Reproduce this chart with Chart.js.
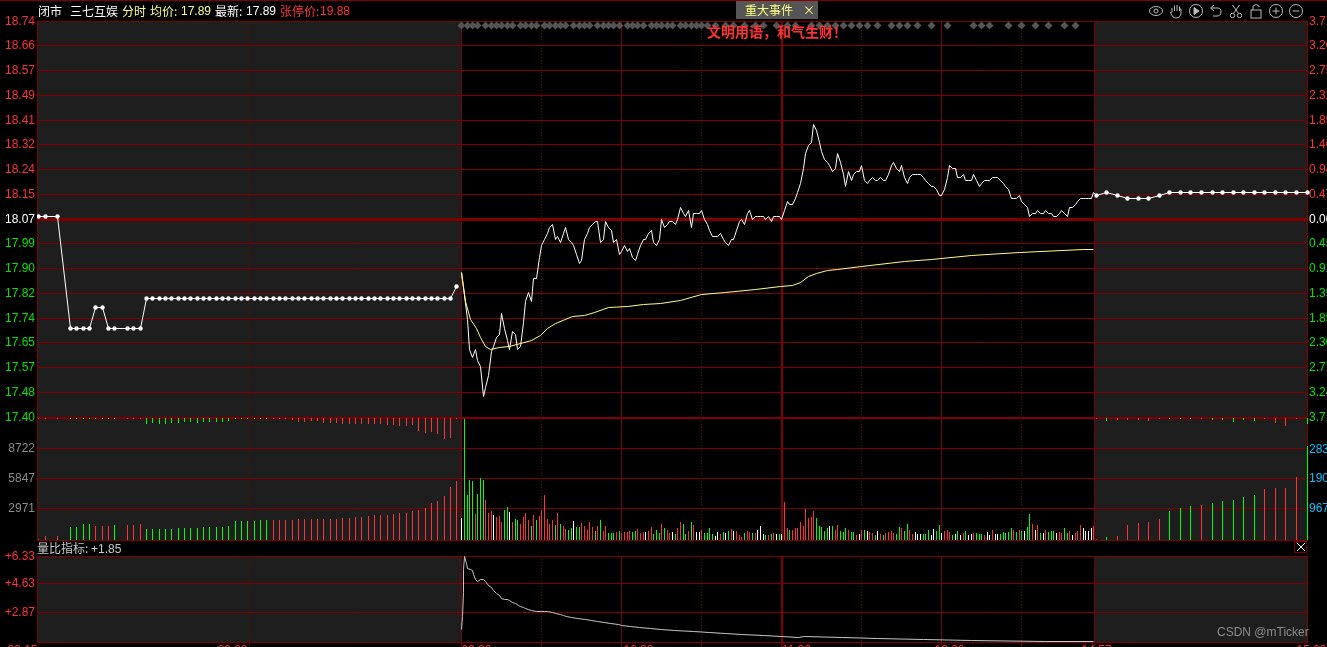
<!DOCTYPE html>
<html lang="zh">
<head>
<meta charset="utf-8">
<title>三七互娱 分时</title>
<script src="https://cdn.jsdelivr.net/npm/chart.js@4/dist/chart.umd.min.js"></script>
<style>
html,body{margin:0;padding:0;background:#000;width:1327px;height:647px;overflow:hidden}
canvas{position:absolute;left:0}
.t{position:absolute;white-space:pre;font:12px/14px "Noto Sans CJK SC","Liberation Sans",sans-serif}
.n{font-family:"Liberation Sans",sans-serif;font-size:12px}
#topline{position:absolute;left:0;top:0;width:1327px;height:1px;background:#800000}
#evt{position:absolute;left:736px;top:1px;width:82px;height:18px;background:#555}
#close{position:absolute;left:1294px;top:541px;width:11px;height:10px;border:1px solid #800000}
svg{position:absolute;top:3px}
</style>
</head>
<body>
<canvas id="cPrice" width="1327" height="430" style="top:0"></canvas>
<canvas id="cVol" width="1327" height="140" style="top:410px"></canvas>
<canvas id="cRatio" width="1327" height="102" style="top:545px"></canvas>

<div id="topline"></div>
<span class="t" style="left:38px;top:4px;color:#fff">闭市</span>
<span class="t" style="left:70px;top:4px;color:#fff">三七互娱</span>
<span class="t" style="left:122px;top:4px;color:#ffff80">分时</span>
<span class="t" style="left:150px;top:4px;color:#ffff80">均价:</span>
<span class="t n" style="left:181px;top:4px;color:#ffff80">17.89</span>
<span class="t" style="left:215px;top:4px;color:#fff">最新:</span>
<span class="t n" style="left:246px;top:4px;color:#fff">17.89</span>
<span class="t" style="left:280px;top:4px;color:#ff3232">张停价:</span>
<span class="t n" style="left:320px;top:4px;color:#ff3232">19.88</span>
<div id="evt"></div>
<span class="t" style="left:745px;top:3px;color:#ffff80">重大事件</span>
<span class="t" style="left:803px;top:3px;color:#ffff80">×</span>
<span class="t" style="left:707px;top:23px;color:#ff3232;font-size:14px;line-height:16px;font-weight:700">文明用语，和气生财！</span>
<span class="t" style="left:37px;top:541px;color:#c8c8c8">量比指标: <span class="n">+1.85</span></span>
<div id="close"><svg style="top:0;left:1px" width="10" height="10" viewBox="0 0 10 10"><path d="M1 1L9 9M9 1L1 9" stroke="#fff" fill="none"/></svg></div>
<span class="t" style="left:1217px;top:625px;color:#8c8c8c;font:12px/14px 'Liberation Sans',sans-serif">CSDN @mTicker</span>

<svg style="left:1148px" width="16" height="16" viewBox="0 0 16 16" fill="none" stroke="#bbb"><ellipse cx="8" cy="8" rx="6.5" ry="4.5"/><circle cx="8" cy="8" r="2"/></svg>
<svg style="left:1168px" width="16" height="16" viewBox="0 0 16 16" fill="none" stroke="#bbb"><path d="M4 9V5M6.5 8V2.5M9 8V2M11.5 8V3.5M11.5 8V6L13 6V10C13 13 11 15 8 15C5 15 4 13 2.5 9.5L4 9"/></svg>
<svg style="left:1188px" width="16" height="16" viewBox="0 0 16 16" fill="none" stroke="#bbb"><circle cx="8" cy="8" r="6.5"/><path d="M6 4.5L11 8L6 11.5Z" fill="#bbb"/></svg>
<svg style="left:1208px" width="16" height="16" viewBox="0 0 16 16" fill="none" stroke="#bbb"><path d="M6 2L2.5 5L6 8M3 5H10C12 5 13 7 13 9C13 12 11 13 9 13H5"/></svg>
<svg style="left:1228px" width="16" height="16" viewBox="0 0 16 16" fill="none" stroke="#bbb"><circle cx="4.5" cy="12.5" r="2.2"/><circle cx="11.5" cy="12.5" r="2.2"/><path d="M5.5 10.5L11.5 2M10.5 10.5L4.5 2"/></svg>
<svg style="left:1248px" width="16" height="16" viewBox="0 0 16 16" fill="none" stroke="#bbb"><rect x="3" y="7" width="10" height="8"/><path d="M5 7V4C5 1 11 1 11 4"/></svg>
<svg style="left:1268px" width="16" height="16" viewBox="0 0 16 16" fill="none" stroke="#bbb"><circle cx="8" cy="8" r="6.5"/><path d="M4.5 8H11.5M8 4.5V11.5"/></svg>
<svg style="left:1288px" width="16" height="16" viewBox="0 0 16 16" fill="none" stroke="#bbb"><circle cx="8" cy="8" r="6.5"/><path d="M4.5 8H11.5"/></svg>

<script>
// ---------- axis labels ----------
const priceTicks = [17.40,17.48375,17.5675,17.65125,17.735,17.81875,17.9025,17.98625,18.07,18.15375,18.2375,18.32125,18.405,18.48875,18.5725,18.65625,18.74];
const priceLabels = ['17.40','17.48','17.57','17.65','17.74','17.82','17.90','17.99','18.07','18.15','18.24','18.32','18.41','18.49','18.57','18.66','18.74'];
const pctLabels = ['3.71','3.24','2.77','2.30','1.85','1.39','0.92','0.45','0.00','0.47','0.94','1.40','1.85','2.32','2.75','3.20','3.71'];
const volTicks = [2971,5847,8722];
const volTicksRight = [967,1900,2833];
const ratioTicks = [2.87,4.63,6.33];
const timeLabels = ['09:15','09:20','09:30','10:30','11:30','13:00','14:57','15:00'];
const timeLabelMinutes = [-15.35,-10.4,5.6,66.3,125.4,183,237.03,240.07];
const solidMinutes = [0,60,120,180,237.01];
const dottedMinutes = [-10,30,90,150,210];

// ---------- pre-open auction (09:15 - 09:25) ----------
const prePrices = [18.08,18.08,null,18.08,null,17.70,17.70,17.70,17.70,17.77,17.77,17.70,17.70,null,17.70,17.70,17.70,
 17.80,17.80,17.80,17.80,17.80,17.80,17.80,17.80,17.80,17.80,17.80,17.80,17.80,17.80,17.80,17.80,17.80,17.80,17.80,17.80,
 17.80,17.80,17.80,17.80,17.80,17.80,17.80,17.80,17.80,17.80,17.80,17.80,17.80,17.80,17.80,17.80,17.80,17.80,17.80,17.80,
 17.80,17.80,17.80,17.80,17.80,17.80,17.80,17.80,17.80,17.84];
const preVolumes = [96,383,0,383,0,1244,1244,1531,1531,1340,1340,1340,1436,0,1436,1436,1531,1053,1053,1053,1053,1053,1148,1148,1148,1148,
 1244,1244,1244,1244,1340,1818,1818,1818,1818,1914,1914,1914,1914,1914,1914,2010,2010,2010,2010,2010,2010,2010,2105,2105,2201,2201,
 2297,2393,2393,2393,2488,2584,2584,2775,2871,3062,3541,3732,4211,5072,5646];
const preKinds = 'RR-R-GGGGRRRG-RRRGGGGGGGGGGGGGGGGGGGGRRRRRRRRRRRRRRRRRRRRRRRRRRRRRR';
const preOrders = [1,1,0,1,0,1,1,1,1,1,1,1,1,0,1,1,1,6,5,6,6,5,5,4,4,5,4,4,4,4,3,1,1,1,1,1,1,
 1,1,1,2,4,4,3,3,5,5,5,6,6,6,6,6,6,6,7,7,8,8,7,13,15,14,16,21,20,1];
const preOrderKinds = 'RR-R-GGGGGGGG-RRRGGGGGGGGGGGGGGGGGGGGRRRRRRRRRRRRRRRRRRRRRRRRRRRRRR';

// ---------- continuous session, one value per trading minute ----------
const mainPrices = [
 17.89,17.81,17.73,17.63,17.60,17.63,17.59,17.57,17.47,17.50,
 17.54,17.62,17.64,17.67,17.68,17.75,17.70,17.66,17.63,17.69,
 17.68,17.63,17.64,17.72,17.79,17.82,17.79,17.87,17.87,17.94,
 17.98,18.00,18.02,18.04,18.05,18.00,18.01,17.99,18.02,18.04,
 18.00,17.99,17.98,17.95,17.92,17.93,18.00,18.02,18.04,18.05,
 18.06,18.06,17.99,18.00,18.06,18.04,18.03,17.99,18.00,17.95,
 17.96,17.98,17.96,17.97,17.94,17.93,17.95,17.98,18.00,18.00,
 18.02,18.03,17.99,17.98,18.00,18.07,18.04,18.05,18.06,18.06,
 18.05,18.07,18.11,18.09,18.08,18.10,18.04,18.09,18.09,18.09,
 18.10,18.07,18.05,18.03,18.01,18.01,18.01,18.02,18.00,17.99,
 17.98,18.00,18.00,18.03,18.06,18.07,18.05,18.09,18.10,18.07,
 18.08,18.08,18.08,18.08,18.07,18.08,18.06,18.08,18.08,18.08,
 18.07,18.10,18.13,18.12,18.12,18.14,18.16,18.19,18.24,18.29,
 18.32,18.33,18.39,18.37,18.33,18.30,18.27,18.26,18.25,18.23,
 18.24,18.29,18.26,18.22,18.18,18.23,18.20,18.22,18.23,18.23,
 18.25,18.20,18.19,18.20,18.21,18.20,18.20,18.21,18.20,18.20,
 18.22,18.25,18.26,18.24,18.23,18.25,18.21,18.19,18.21,18.22,
 18.22,18.22,18.22,18.21,18.20,18.19,18.18,18.18,18.17,18.15,
 18.15,18.17,18.21,18.25,18.24,18.24,18.21,18.21,18.22,18.20,
 18.20,18.20,18.22,18.20,18.18,18.19,18.20,18.20,18.20,18.21,
 18.21,18.21,18.20,18.19,18.18,18.17,18.14,18.14,18.14,18.15,
 18.13,18.12,18.11,18.08,18.09,18.09,18.10,18.09,18.09,18.10,
 18.09,18.09,18.08,18.08,18.09,18.10,18.09,18.08,18.11,18.11,
 18.12,18.13,18.14,18.14,18.14,18.14,18.14,18.16];
const mainVolumes = [
 2112,11616,4320,5760,5664,2496,4416,5952,5760,3840,
 2592,2784,2400,2208,2304,1728,2880,3168,2688,1728,
 2016,1920,1536,2208,2592,1920,1344,2400,1920,2304,
 2880,4320,2016,1536,1920,1440,2592,1536,1344,1056,
 960,1152,1824,1248,1248,1632,1344,960,1728,1248,
 864,1344,1920,864,1344,672,672,672,768,864,
 672,768,768,864,768,864,1056,672,768,768,
 864,1248,576,960,672,1536,1152,960,672,768,
 576,1152,1728,1536,576,864,1728,1440,768,768,
 960,672,672,1152,576,384,768,576,768,672,
 864,1056,864,864,480,288,672,864,768,672,
 672,960,1344,576,480,480,576,672,576,576,
 576,3648,1152,960,960,1152,1152,1728,1344,2976,
 2112,2208,2784,2112,1344,1248,864,1152,1344,1344,
 960,1440,864,768,1152,960,768,768,480,576,
 960,960,864,768,672,480,864,576,480,672,
 768,864,672,576,1248,1152,864,1536,960,576,
 768,576,576,576,576,960,480,1056,864,1440,
 672,864,960,768,480,576,864,480,672,864,
 480,576,672,672,576,576,480,768,480,960,
 576,576,576,768,672,768,1152,960,768,960,
 864,864,1248,2496,1536,960,1440,672,672,960,
 768,864,864,672,768,672,1152,672,864,480,
 672,864,1440,1152,864,864,1152,1344];
const mainKinds =
 'WGGGGRGGGR'+'RRWRRRGGWR'+'GGRRRRGRGR'+'RRRRRGRGRR'+'GGWGGRRRRR'+'GRGRRGGGRG'+
 'RRRRGGRRRW'+'RRGGGRGRRW'+'GRRGGRGRWW'+'RGGGGWWRGW'+'GRWRRRGRRG'+'RWWWGRGRWG'+
 'WRRGRRRRRR'+'RRRGGGGGWG'+'RRGGGRGGRW'+'RGWRRGWRGR'+'RRRGGRGGRR'+'WWWGGGWWGG'+
 'WRRRGWGWRG'+'WWRGGGRWWR'+'WWGGGGGRGR'+'GWGGRWRGWR'+'GGGWRRGGRW'+'RRRWWWWR';

// average price line, read at the minutes listed
const avgMinutes = [0,1.5,3.4,5.5,7.1,9,10.9,14,17.8,22,26,29.6,32,35,41.5,46,49.6,55,62,68,74.6,82,90,99,110,119.6,124,127,130,133,137,141,150,166,176,191,209,233,237];
const avgPrices = [17.89,17.79,17.73,17.70,17.67,17.64,17.63,17.635,17.64,17.65,17.66,17.675,17.70,17.715,17.74,17.745,17.755,17.77,17.775,17.78,17.785,17.795,17.815,17.82,17.83,17.84,17.845,17.855,17.875,17.885,17.895,17.90,17.91,17.926,17.934,17.945,17.955,17.966,17.968];

// ---------- closing auction (14:57 - 15:00) ----------
const postPrices = [18.15,18.16,18.15,18.14,18.14,18.14,18.15,18.16,18.16,18.16,18.16,18.16,18.16,18.16,18.16,18.16,18.16,18.16,18.16,18.16,18.16];
const postVolumes = [21,94,125,468,530,562,655,905,998,1060,1092,1154,1217,1248,1342,1404,1591,1622,1622,1966,2933];
const postKinds = 'RGRRRRRGGGRGGGGGRRRRG';
const postOrders = [1,3,2,2,2,3,1,1,1,1,1,2,2,4,2,3,1,5,8,1,6];

// ---------- volume-ratio indicator ----------
const ratioMinutes = [0,0.2,0.5,0.8,1.1,1.6,2.2,3.2,4.1,4.5,5.2,6,7,8.2,9,10,11.2,12,13,14.2,15,16,17.2,18,19.1,20.2,21.4,22.1,23.2,24,25.1,26.2,28.1,30,31.1,32.2,34.1,35.2,37.1,38.2,39.4,41.2,43.5,46.5,48.7,51,53.6,55.9,58.7,60,63.4,66.7,70.9,75,79.9,87,93,99,105,113,120,126.2,128.5,142.9,156,173,191,219,237];
const ratioValues = [1.84,2.65,4.10,5.52,6.29,5.89,5.58,5.52,5.42,5.18,4.87,4.77,4.87,4.91,4.77,4.53,4.41,4.23,4.02,3.92,3.76,3.70,3.70,3.62,3.50,3.42,3.32,3.26,3.21,3.13,3.09,3.03,2.97,2.93,2.97,2.93,2.87,2.81,2.79,2.73,2.65,2.59,2.53,2.47,2.38,2.32,2.28,2.20,2.16,2.10,2.04,1.96,1.92,1.84,1.78,1.72,1.66,1.60,1.54,1.47,1.45,1.37,1.45,1.39,1.33,1.27,1.21,1.15,1.15];

// minutes that carry an event marker
const eventMinutes = [0,2,4,6,9,11,13,15,17,19,22,24,26,28,31,33,35,37,39,42,44,46,48,51,53,55,57,59,62,64,66,68,71,73,75,77,79,82,84,86,88,90,92,95,99,102,106,110,113,118,122,125,131,134,137,140,143,146,149,152,156,161,164,167,171,176,182,192,195,198,205,210,215,220,226,230];

// ---------- colours ----------
const RED='#ff3232', GREEN='#00ff00', WHITE='#ffffff', GRID='#800000', GREY='#1e1e1e';
const kindColor = {R:RED, G:GREEN, W:WHITE, '-':RED};

// ---------- session axis: three stretches of the width ----------
const PRE_SHARE = 424/1270, MAIN_SHARE = 632/1270, POST_START = 1057/1270, MAIN_NUDGE = 0.8;
class SessionScale extends Chart.LinearScale {
  static id = 'session';
  static defaults = Chart.LinearScale.defaults;
  getPixelForValue(v){
    const L = this.left, W = this.width;
    let px;
    if (v <= -5) px = L + (v+15)/10*PRE_SHARE*W;
    else if (v <= 237) px = L + PRE_SHARE*W + MAIN_NUDGE + Math.max(v,0)/237*MAIN_SHARE*W;
    else px = L + POST_START*W + (v-237)/3*(1-POST_START)*W;
    return Math.floor(px) + 0.5;
  }
}
class CrispScale extends Chart.LinearScale {
  static id = 'crisp';
  static defaults = Chart.LinearScale.defaults;
  getPixelForValue(v){ return Math.floor(super.getPixelForValue(v) + 1e-6) + 0.5; }
}
Chart.register(SessionScale, CrispScale);

const preMinute = i => -15 + 10*(i+0.316)/67;
const postMinute = j => 237 + 3*(j+0.19)/20.19;

const sessionShade = {
  id:'sessionShade',
  beforeDraw(chart){
    const {ctx, chartArea:a, scales} = chart, x = scales.x;
    const p1 = x.getPixelForValue(-5), p2 = x.getPixelForValue(237.01);
    ctx.save();
    ctx.fillStyle = GREY;
    ctx.fillRect(a.left, a.top, p1-a.left, a.bottom-a.top);
    ctx.fillRect(p2, a.top, a.right-p2, a.bottom-a.top);
    ctx.restore();
  }
};

const noPad = s => { s.paddingLeft = s.paddingRight = s.paddingTop = s.paddingBottom = 0; };
const fixH = h => s => { s.height = h; noPad(s); };
const fixW = w => s => { s.width = w; noPad(s); };

const tickFont = {family:'"Liberation Sans",sans-serif', size:12};
const setTicks = list => s => { s.ticks = list.map(v => ({value:v})); };
const xAxes = (borderOn, tickLen) => ({
  x:{type:'session', axis:'x', position:'bottom', min:-15, max:240, offset:false, bounds:'data',
     afterBuildTicks:setTicks(solidMinutes), afterFit:fixH(0),
     ticks:{display:false, autoSkip:false, maxRotation:0},
     border:{display:borderOn, color:GRID, width:1},
     grid:{offset:false, color:GRID, lineWidth:c=>solidMinutes[c.index]===120?2:1, drawTicks:!!tickLen, tickLength:tickLen||0, tickColor:GRID}},
  xDot:{type:'session', axis:'x', position:'bottom', min:-15, max:240, offset:false, bounds:'data',
     afterBuildTicks:setTicks(dottedMinutes), afterFit:fixH(0),
     ticks:{display:false, autoSkip:false, maxRotation:0},
     border:{display:false, dash:[1,2], color:GRID},
     grid:{offset:false, color:GRID, lineWidth:1, drawTicks:!!tickLen, tickLength:tickLen||0, tickColor:GRID}}
});
const leftAxis = (extra) => Object.assign({
  position:'left', bounds:'data', afterFit:fixW(37),
  border:{display:true, color:GRID, width:1}
}, extra);
const rightAxis = (extra) => Object.assign({
  position:'right', bounds:'data', afterFit:fixW(20),
  border:{display:true, color:GRID, width:1},
  grid:{drawOnChartArea:false, drawTicks:false}
}, extra);
const base = {
  responsive:false, animation:false, devicePixelRatio:1, events:[],
  plugins:{legend:{display:false}, tooltip:{enabled:false}}
};

// ---------- price panel ----------
const closeIndex = priceTicks.indexOf(18.07);
const sideColor = c => c.index>closeIndex?RED:(c.index===closeIndex?'#ffffff':'#00e600');
new Chart(document.getElementById('cPrice'), {
  type:'line',
  plugins:[sessionShade],
  data:{datasets:[
    {label:'事件', data:eventMinutes.map(m=>({x:m,y:18.725})), showLine:false, pointStyle:'rectRot', pointRadius:4, pointBackgroundColor:'#555', pointBorderWidth:0, xAxisID:'x', yAxisID:'y', clip:false},
    {label:'集合竞价', data:prePrices.map((p,i)=>({x:preMinute(i),y:p})), spanGaps:true, borderColor:WHITE, borderWidth:1, tension:0,
     pointRadius:c=>prePrices[c.dataIndex]===null?0:2.2, pointBackgroundColor:WHITE, pointBorderWidth:0, xAxisID:'x', yAxisID:'y'},
    {label:'均价', data:avgPrices.map((p,i)=>({x:avgMinutes[i],y:p})), borderColor:'#ffff80', borderWidth:1, tension:0, pointRadius:0, xAxisID:'x', yAxisID:'y'},
    {label:'最新', data:mainPrices.map((p,i)=>({x:i,y:p})).concat(postPrices.map((p,j)=>({x:postMinute(j),y:p}))), borderColor:WHITE, borderWidth:1, tension:0,
     pointRadius:c=>c.dataIndex>=mainPrices.length?2.2:0, pointBackgroundColor:WHITE, pointBorderWidth:0, xAxisID:'x', yAxisID:'y', clip:false}
  ]},
  options:Object.assign({}, base, {
    layout:{autoPadding:false, padding:{top:21,bottom:13,left:0,right:0}},
    scales:Object.assign(xAxes(false), {
      y:leftAxis({type:'crisp', min:17.40, max:18.74, afterBuildTicks:setTicks(priceTicks),
        ticks:{autoSkip:false, padding:2, font:tickFont, callback:(v,i)=>priceLabels[i], color:sideColor},
        grid:{color:GRID, drawTicks:false, lineWidth:c=>c.index===closeIndex?3:1}}),
      yPct:rightAxis({type:'crisp', min:17.40, max:18.74, afterBuildTicks:setTicks(priceTicks),
        ticks:{autoSkip:false, padding:2, font:tickFont, callback:(v,i)=>pctLabels[i], color:sideColor}})
    })
  })
});

// ---------- volume panel ----------
const VOL_TOP = 11690, VOL_TOP_R = 3806, ORDER_TOP = 122;
const barSet = (label, values, minuteOf, kinds, yAxisID) => ({
  type:'bar', label, data:values.map((v,i)=>({x:minuteOf(i),y:v})),
  backgroundColor:values.map((v,i)=>kindColor[kinds[i]]),
  barThickness:1, borderWidth:0, inflateAmount:0, grouped:false, xAxisID:'x', yAxisID, clip:false
});
new Chart(document.getElementById('cVol'), {
  type:'bar',
  plugins:[sessionShade],
  data:{datasets:[
    barSet('竞价量', preVolumes, preMinute, preKinds, 'y'),
    barSet('竞价未匹配', preOrders, preMinute, preOrderKinds, 'yOrder'),
    barSet('成交量', mainVolumes, i=>i, mainKinds, 'y'),
    barSet('尾盘量', postVolumes, postMinute, postKinds, 'yR'),
    barSet('尾盘未匹配', postOrders, postMinute, postKinds, 'yOrder')
  ]},
  options:Object.assign({}, base, {
    layout:{autoPadding:false, padding:{top:8,bottom:10,left:0,right:0}},
    scales:Object.assign(xAxes(true), {
      y:leftAxis({type:'linear', min:0, max:VOL_TOP, afterBuildTicks:setTicks(volTicks.concat([VOL_TOP])),
        ticks:{autoSkip:false, padding:2, font:tickFont, color:'#8c8c8c', callback:v=>volTicks.includes(v)?String(v):''},
        grid:{color:GRID, drawTicks:false, lineWidth:c=>c.index===3?2:1}}),
      yR:rightAxis({type:'linear', min:0, max:VOL_TOP_R, afterBuildTicks:setTicks(volTicksRight),
        ticks:{autoSkip:false, padding:2, font:tickFont, color:'#00c0ff', callback:v=>String(v)}}),
      yOrder:{type:'linear', display:false, reverse:true, min:0, max:ORDER_TOP, position:'left', bounds:'data'}
    })
  })
});

// ---------- volume-ratio panel ----------
new Chart(document.getElementById('cRatio'), {
  type:'line',
  plugins:[sessionShade],
  data:{datasets:[
    {label:'量比', data:ratioValues.map((v,i)=>({x:ratioMinutes[i],y:v})), borderColor:'#c8c8c8', borderWidth:1, tension:0, pointRadius:0, xAxisID:'x', yAxisID:'y'}
  ]},
  options:Object.assign({}, base, {
    layout:{autoPadding:false, padding:{top:11,bottom:0,left:0,right:0}},
    scales:Object.assign(xAxes(true,4), {
      xLab:{type:'session', axis:'x', position:'bottom', min:-15, max:240, offset:false, bounds:'data',
        afterBuildTicks:setTicks(timeLabelMinutes), afterFit:fixH(5),
        ticks:{autoSkip:false, maxRotation:0, padding:1, font:tickFont, color:RED, callback:(v,i)=>timeLabels[i]},
        border:{display:false}, grid:{display:false, drawTicks:false}},
      y:leftAxis({type:'crisp', min:1.09, max:6.33, afterBuildTicks:setTicks(ratioTicks),
        ticks:{autoSkip:false, padding:2, font:tickFont, color:RED, callback:v=>'+'+v.toFixed(2)},
        grid:{color:GRID, drawTicks:false}}),
      yR:rightAxis({type:'linear', min:0, max:1, afterBuildTicks:setTicks([]), ticks:{display:false}})
    })
  })
});
</script>
</body>
</html>
